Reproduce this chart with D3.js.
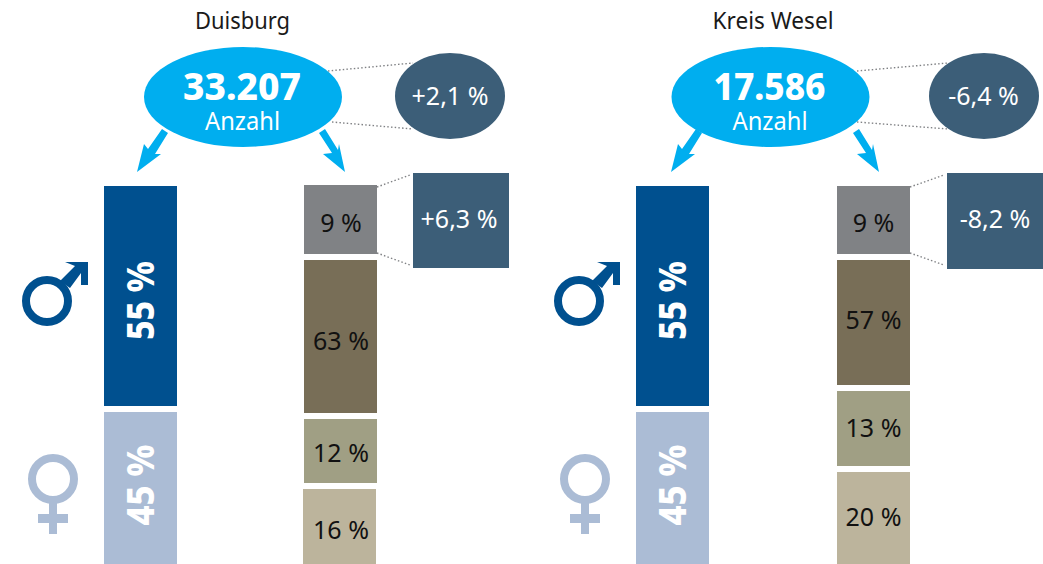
<!DOCTYPE html>
<html><head><meta charset="utf-8">
<script src="https://cdn.jsdelivr.net/npm/d3@7"></script>
<style>html,body{margin:0;padding:0;background:#fff}svg{display:block}text{font-family:"Noto Sans",sans-serif}</style>
</head><body><svg id="c" width="1043" height="564"></svg>
<script>
// ---- data ----
const regions = ["Duisburg", "Kreis Wesel"];
const totals = ["33.207", "17.586"];
const totalLabel = "Anzahl";
const totalChange = ["+2,1 %", "-6,4 %"];
const topGroupChange = ["+6,3 %", "-8,2 %"];
const genders = ["männlich", "weiblich"];
const genderShares = [[55, 45], [55, 45]];
const groups = ["g1", "g2", "g3", "g4"];
const groupShares = [[9, 63, 12, 16], [9, 57, 13, 20]];

// ---- layout (the reference's segments are not drawn to value, so edges map category -> pixels) ----
const panelX = d3.scaleOrdinal(regions, [0, 532]);
const genderEdges = d3.scaleOrdinal(genders, [[186, 406], [412, 564]]);
const groupEdges = [
  d3.scaleOrdinal(groups, [[185, 254], [260, 413], [419, 483], [489, 564]]),
  d3.scaleOrdinal(groups, [[186, 254], [260, 385], [391, 466], [472, 564]])
];
const groupX = [
  d3.scaleOrdinal(groups, [304, 304, 304, 303]),
  d3.scaleOrdinal(groups, [837, 837, 837, 837])
];
const groupLabelX = [341, 873.5];
const groupBaseline = [
  d3.scaleOrdinal(groups, [232, 350, 462, 539]),
  d3.scaleOrdinal(groups, [232, 329, 437, 526])
];
const genderColor = d3.scaleOrdinal(genders, ["#00508f", "#abbcd5"]);
const groupColor = d3.scaleOrdinal(groups, ["#808285", "#786e57", "#a09f84", "#bcb49c"]);
const cyan = "#00aeef", slate = "#3c5e78";
const pct = v => v + " %";

const svg = d3.select("#c");
const panels = svg.selectAll("g.panel").data(regions).join("g").attr("class", "panel");

const titleX = [242.5, 773], titleLen = [95, 121], ellX = [243, 770.5], chgX = [450, 984];
const totalLen = [118, 112], arrowDx = [0, 534];
const squareX = [[413, 509], [947, 1043]];
const squareY = [[173, 268], [173, 269]];
const squareTextX = [459, 995];
const connect = [[328, 71, 413, 63], [332, 122, 413, 129]];
const connectK = [[857, 71, 948, 63], [857, 122, 948, 129]];
const sqConn = [[[377, 187, 410, 175], [377, 253, 410, 265]], [[910, 187, 944, 175], [910, 253, 944, 265]]];
const dotted = (s, d) => s.append("line").attr("x1", d[0]).attr("y1", d[1]).attr("x2", d[2]).attr("y2", d[3])
  .attr("stroke", "#808285").attr("stroke-width", 1.4).attr("stroke-dasharray", "1.5 2.2");

panels.each(function (r, i) {
  const g = d3.select(this), dx = panelX(r);

  g.append("text").attr("x", titleX[i]).attr("y", 29).attr("text-anchor", "middle")
    .attr("font-size", 24).attr("fill", "#1a1a1a")
    .attr("textLength", titleLen[i]).attr("lengthAdjust", "spacingAndGlyphs").text(r);

  (i ? connectK : connect).forEach(d => dotted(g, d));
  sqConn[i].forEach(d => dotted(g, d));

  // arrows
  const arrows = [
    [[162, 129], [168, 133], [155, 154], [161, 154], [137, 172], [144, 144], [148, 149]],
    [[319, 133], [325, 129], [338, 150], [339, 144], [345, 172], [323, 154], [332, 153]]
  ];
  arrows.forEach(p => g.append("polygon")
    .attr("points", p.map(q => [q[0] + arrowDx[i], q[1]].join(",")).join(" ")).attr("fill", cyan));

  g.append("ellipse").attr("cx", ellX[i]).attr("cy", 97).attr("rx", 99).attr("ry", 50).attr("fill", cyan);
  g.append("text").attr("x", ellX[i] - 1).attr("y", 100).attr("text-anchor", "middle")
    .attr("font-size", 38).attr("font-weight", 800).attr("fill", "#fff")
    .attr("textLength", totalLen[i]).attr("lengthAdjust", "spacingAndGlyphs").text(totals[i]);
  g.append("text").attr("x", ellX[i] - 0.5).attr("y", 130).attr("text-anchor", "middle")
    .attr("font-size", 26).attr("fill", "#fff")
    .attr("textLength", 75).attr("lengthAdjust", "spacingAndGlyphs").text(totalLabel);

  g.append("ellipse").attr("cx", chgX[i]).attr("cy", 96).attr("rx", 55).attr("ry", 43).attr("fill", slate);
  g.append("text").attr("x", i ? 983.5 : 450).attr("y", 105).attr("text-anchor", "middle")
    .attr("font-size", 25).attr("fill", "#fff").text(totalChange[i]);

  g.append("rect").attr("x", squareX[i][0]).attr("y", squareY[i][0])
    .attr("width", squareX[i][1] - squareX[i][0]).attr("height", squareY[i][1] - squareY[i][0]).attr("fill", slate);
  g.append("text").attr("x", squareTextX[i]).attr("y", 228).attr("text-anchor", "middle")
    .attr("font-size", 25).attr("fill", "#fff").text(topGroupChange[i]);

  // gender bars
  const gd = genders.map((k, j) => ({ k, v: genderShares[i][j] }));
  g.selectAll("rect.gender").data(gd).join("rect").attr("class", "gender")
    .attr("x", 104 + dx).attr("width", 73)
    .attr("y", d => genderEdges(d.k)[0]).attr("height", d => genderEdges(d.k)[1] - genderEdges(d.k)[0])
    .attr("fill", d => genderColor(d.k));
  const genderLabelY = [300.5, 485];
  const genderLabelLen = [79, 81];
  g.selectAll("text.gender").data(gd).join("text").attr("class", "gender")
    .attr("transform", (d, j) => `translate(${141 + dx},${genderLabelY[j]}) rotate(-90)`)
    .attr("text-anchor", "middle").attr("dy", "0.36em")
    .attr("font-size", 37).attr("font-weight", 800).attr("fill", "#fff")
    .attr("textLength", (d, j) => genderLabelLen[j]).attr("lengthAdjust", "spacingAndGlyphs")
    .text(d => pct(d.v));

  // group bars
  const gp = groups.map((k, j) => ({ k, v: groupShares[i][j] }));
  g.selectAll("rect.grp").data(gp).join("rect").attr("class", "grp")
    .attr("x", d => groupX[i](d.k)).attr("width", 73)
    .attr("y", d => groupEdges[i](d.k)[0]).attr("height", d => groupEdges[i](d.k)[1] - groupEdges[i](d.k)[0])
    .attr("fill", d => groupColor(d.k));
  g.selectAll("text.grp").data(gp).join("text").attr("class", "grp")
    .attr("x", groupLabelX[i])
    .attr("y", d => groupBaseline[i](d.k))
    .attr("text-anchor", "middle").attr("font-size", 25).attr("fill", "#111").text(d => pct(d.v));

  // gender symbols
  const m = genderColor("männlich"), f = genderColor("weiblich");
  g.append("circle").attr("cx", 47 + dx).attr("cy", 301).attr("r", 21)
    .attr("fill", "none").attr("stroke", m).attr("stroke-width", 8);
  g.append("polygon").attr("fill", m).attr("points",
    [[60, 281], [75, 266], [65, 262], [88, 262], [88, 285], [81, 285], [81, 273], [70, 288]]
      .map(q => [q[0] + dx, q[1]].join(",")).join(" "));
  g.append("circle").attr("cx", 53 + dx).attr("cy", 479).attr("r", 21)
    .attr("fill", "none").attr("stroke", f).attr("stroke-width", 8);
  g.append("rect").attr("x", 49 + dx).attr("y", 503).attr("width", 8).attr("height", 31).attr("fill", f);
  g.append("rect").attr("x", 38 + dx).attr("y", 514).attr("width", 30).attr("height", 9).attr("fill", f);
});
</script></body></html>
